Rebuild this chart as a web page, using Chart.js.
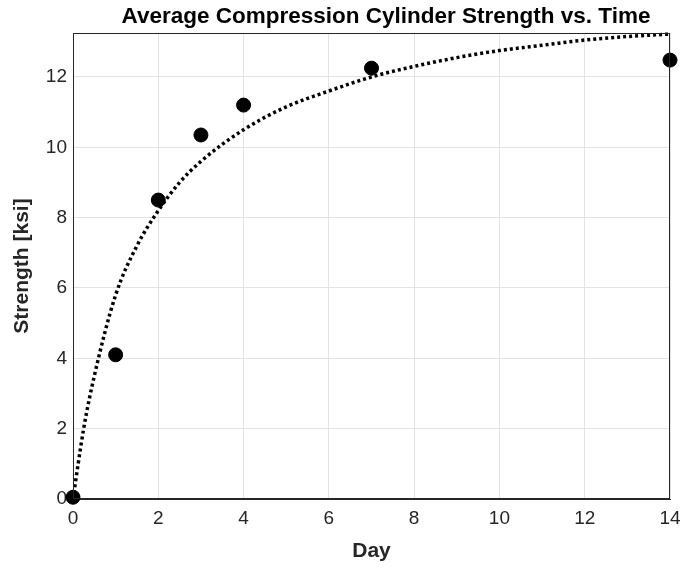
<!DOCTYPE html>
<html>
<head>
<meta charset="utf-8">
<script src="https://cdn.jsdelivr.net/npm/chart.js@4"></script>
<style>
  html, body { margin: 0; padding: 0; background: #fff; }
  #wrap { width: 684px; height: 573px; }
</style>
</head>
<body>
<div id="wrap"><canvas id="myChart"></canvas></div>
<script>
// measured averages
const days = [0, 1, 2, 3, 4, 7, 14];
const strength = [0.05, 4.1, 8.5, 10.35, 11.2, 12.25, 12.48];

// dotted trend curve
const fitDays = [0, 0.25, 0.5, 1, 1.5, 2, 2.5, 3, 4, 5, 6, 7, 8, 9, 10, 11, 12, 13, 14];
const fitStrength = [0, 2.0, 3.5, 5.8, 7.2, 8.2, 9.0, 9.6, 10.5, 11.15, 11.6, 12.0, 12.3, 12.55, 12.75, 12.9, 13.05, 13.15, 13.22];

const xTicks = [0, 2, 4, 6, 8, 10, 12, 14];
const yTicks = [0, 2, 4, 6, 8, 10, 12];

const chartTitle = 'Average Compression Cylinder Strength vs. Time';

// box round the plot + title centred over it
const boxPlugin = {
    id: 'box',
    afterDraw(chart) {
        const a = chart.chartArea;
        const c = chart.ctx;
        c.save();
        c.strokeStyle = '#262626';
        c.lineWidth = 1;
        c.strokeRect(a.left + 0.5, a.top + 0.5, a.right - a.left - 1, a.bottom - a.top - 1);
        c.fillStyle = '#000';
        c.font = 'bold 22.5px "Liberation Sans"';
        c.textAlign = 'center';
        c.textBaseline = 'middle';
        c.fillText(chartTitle, 386, 17);
        c.restore();
    }
};

const ctx = document.getElementById('myChart');

const myChart = new Chart(ctx, {
    type: 'scatter',
    data: {
        datasets: [{
            label: 'fit',
            type: 'line',
            data: fitDays.map((d, i) => ({ x: d, y: fitStrength[i] })),
            borderColor: '#000',
            borderWidth: 3.5,
            borderDash: [3, 3],
            pointRadius: 0,
            cubicInterpolationMode: 'monotone',
            fill: false,
            clip: false,
            order: 2
        }, {
            label: 'data',
            data: days.map((d, i) => ({ x: d, y: strength[i] })),
            backgroundColor: '#000',
            borderColor: '#000',
            pointRadius: 7,
            clip: false,
            order: 1
        }]
    },
    options: {
        responsive: true,
        maintainAspectRatio: false,
        animation: false,
        layout: { padding: { left: 0, right: 14, top: 33, bottom: 0 } },
        plugins: {
            legend: { display: false },
            tooltip: { enabled: false },
            title: { display: false }
        },
        scales: {
            x: {
                type: 'linear',
                min: 0,
                max: 14,
                afterBuildTicks: s => { s.ticks = xTicks.map(v => ({ value: v })); },
                afterFit: s => { s.height = 74; s.paddingLeft = 0; s.paddingRight = 0; },
                ticks: {
                    color: '#262626',
                    font: { family: 'Liberation Sans', size: 19 },
                    padding: 8
                },
                grid: { color: '#e3e3e3', tickLength: 0 },
                border: { color: '#262626' },
                title: {
                    display: true,
                    text: 'Day',
                    color: '#262626',
                    font: { family: 'Liberation Sans', size: 21, weight: 'bold' },
                    padding: { top: 6, bottom: 9 }
                }
            },
            y: {
                type: 'linear',
                min: 0,
                max: 13.25,
                afterBuildTicks: s => { s.ticks = yTicks.map(v => ({ value: v })); },
                afterFit: s => { s.width = 73; s.paddingTop = 0; s.paddingBottom = 0; },
                ticks: {
                    color: '#262626',
                    font: { family: 'Liberation Sans', size: 19 },
                    padding: 6
                },
                grid: { color: '#e3e3e3', tickLength: 0 },
                border: { color: '#262626' },
                title: {
                    display: true,
                    text: 'Strength [ksi]',
                    color: '#262626',
                    font: { family: 'Liberation Sans', size: 21, weight: 'bold' },
                    padding: { top: 10, bottom: 0 }
                }
            }
        }
    },
    plugins: [boxPlugin]
});
</script>
</body>
</html>
